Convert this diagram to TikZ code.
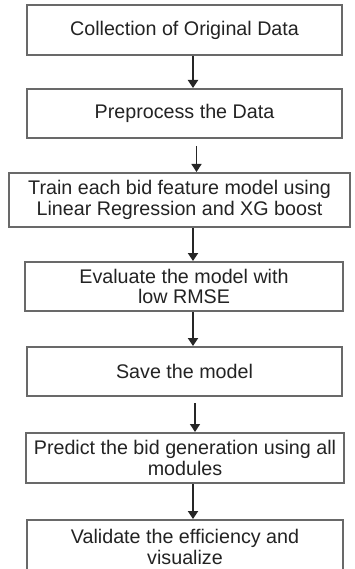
\documentclass[tikz,border=0pt]{standalone}
\usepackage{fontspec}
\setmainfont{Liberation Sans}
\usetikzlibrary{arrows.meta}
\usetikzlibrary{positioning}

\definecolor{boxgray}{RGB}{105,105,105}
\definecolor{textgray}{RGB}{35,35,35}

\begin{document}
\begin{tikzpicture}[x=1pt, y=-1pt,
        box/.style={draw=boxgray, line width=2pt, fill=white, inner sep=2pt,
            align=center, text=textgray,
            font=\fontsize{19.7}{20.5}\selectfont},
        arr/.style={draw=black!85, line width=2pt,
            -{Triangle[width=10pt, length=8pt]}},
        thinarr/.style={arr, line width=1.3pt}]
    \useasboundingbox (0,0) rectangle (354,569);

    % Steps
    \node[box, minimum width=315pt, minimum height=50pt] (collect) at (184.5,30) {Collection of Original Data};
    \node[box, minimum width=315pt, minimum height=49pt] (prep) at (184.5,113.5) {Preprocess the Data};
    \node[box, minimum width=341pt, minimum height=54pt] (train) at (179.5,200) {Train each bid feature model using\\Linear Regression and XG boost};
    \node[box, minimum width=318pt, minimum height=49pt] (eval) at (184,286.5) {Evaluate the model with\\low RMSE};
    \node[box, minimum width=315pt, minimum height=49pt] (save) at (184.5,371.5) {Save the model};
    \node[box, minimum width=318pt, minimum height=50pt] (predict) at (185,458) {Predict the bid generation using all\\modules};
    \node[box, minimum width=316pt, minimum height=54pt] (valid) at (185,547) {Validate the efficiency and\\visualize};

    % Arrows
    \draw[arr] ([xshift=8.5pt]collect.south) -- ([xshift=8.5pt]prep.north);
    \draw[thinarr] ([xshift=12pt, yshift=-7pt]prep.south) -- ([xshift=17pt]train.north);
    \draw[arr] ([xshift=13.5pt]train.south) -- ([xshift=9pt]eval.north);
    \draw[arr] ([xshift=9pt]eval.south) -- ([xshift=8.5pt]save.north);
    \draw[thinarr] ([xshift=10.5pt, yshift=-6pt]save.south) -- ([xshift=10pt]predict.north);
    \draw[arr] ([xshift=8pt]predict.south) -- ([xshift=8pt]valid.north);
\end{tikzpicture}
\end{document}
